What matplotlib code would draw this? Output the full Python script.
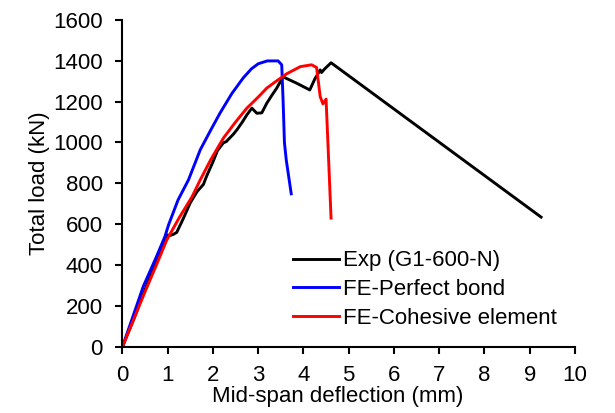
import matplotlib
matplotlib.use("Agg")
import matplotlib.pyplot as plt

plt.rcParams['font.family'] = ['Liberation Sans', 'DejaVu Sans']

exp_x = [0.0, 0.25, 0.5, 0.75, 0.95, 0.98, 1.05, 1.12, 1.2, 1.35, 1.5, 1.65, 1.79, 1.86, 2.0, 2.1,
         2.23, 2.3, 2.34, 2.45, 2.53, 2.65, 2.75, 2.86, 2.97, 3.08, 3.19, 3.3, 3.41, 3.55,
         3.85, 4.14, 4.25, 4.37, 4.40, 4.46, 4.61, 9.25]
exp_y = [0, 135, 280, 420, 520, 548, 545, 550, 560, 630, 705, 760, 795, 835, 905, 960,
         998, 1005, 1015, 1040, 1062, 1100, 1135, 1168, 1143, 1145, 1192, 1230, 1266, 1321,
         1290, 1257, 1310, 1355, 1342, 1358, 1390, 635]

pb_x = [0.0, 0.25, 0.46, 0.75, 0.94, 1.02, 1.23, 1.46, 1.72, 1.95, 2.16, 2.42, 2.67, 2.85, 3.0,
        3.2, 3.44, 3.52, 3.55, 3.58, 3.62, 3.73]
pb_y = [0, 160, 295, 440, 540, 597, 719, 817, 964, 1060, 1145, 1240, 1316, 1360, 1385,
        1399, 1399, 1380, 1208, 1000, 915, 749]

co_x = [0.0, 0.25, 0.5, 0.75, 0.98, 1.25, 1.54, 1.72, 1.95, 2.23, 2.5, 2.75, 3.0, 3.19, 3.4, 3.63,
        3.93, 4.18, 4.29, 4.37, 4.43, 4.50, 4.55, 4.61]
co_y = [0, 135, 270, 400, 523, 630, 735, 817, 915, 1021, 1100, 1168, 1222, 1266, 1300, 1336,
        1371, 1380, 1367, 1225, 1189, 1212, 949, 630]

fig = plt.figure(figsize=(6.15, 4.13), dpi=100)
ax = fig.add_axes([0.199, 0.16, 0.736, 0.792])

lw = 2.1
ax.plot(exp_x, exp_y, color='black', lw=lw, label='Exp (G1-600-N)')
ax.plot(pb_x, pb_y, color='#0000ff', lw=lw, label='FE-Perfect bond')
ax.plot(co_x, co_y, color='#ff0000', lw=lw, label='FE-Cohesive element')

ax.set_xlim(0, 10)
ax.set_ylim(0, 1600)
ax.set_xticks(range(0, 11))
ax.set_yticks(range(0, 1601, 200))
for s in ['top', 'right']:
    ax.spines[s].set_visible(False)
for s in ['left', 'bottom']:
    ax.spines[s].set_linewidth(1.5)
ax.tick_params(direction='out', length=5, width=1.5, labelsize=16)
ax.tick_params(axis='x', pad=8)
ax.tick_params(axis='y', pad=9)
ax.set_xlabel('Mid-span deflection (mm)', fontsize=16)
ax.set_ylabel('Total load (kN)', fontsize=16, labelpad=2.5)
ax.xaxis.set_label_coords(0.476, -0.12)

ax.legend(loc='upper left', bbox_to_anchor=(0.377, 0.295), frameon=False, fontsize=16,
          handlelength=2.05, handletextpad=0.2, labelspacing=0.34,
          borderaxespad=0, borderpad=0)

fig.savefig('out.png', dpi=100)
